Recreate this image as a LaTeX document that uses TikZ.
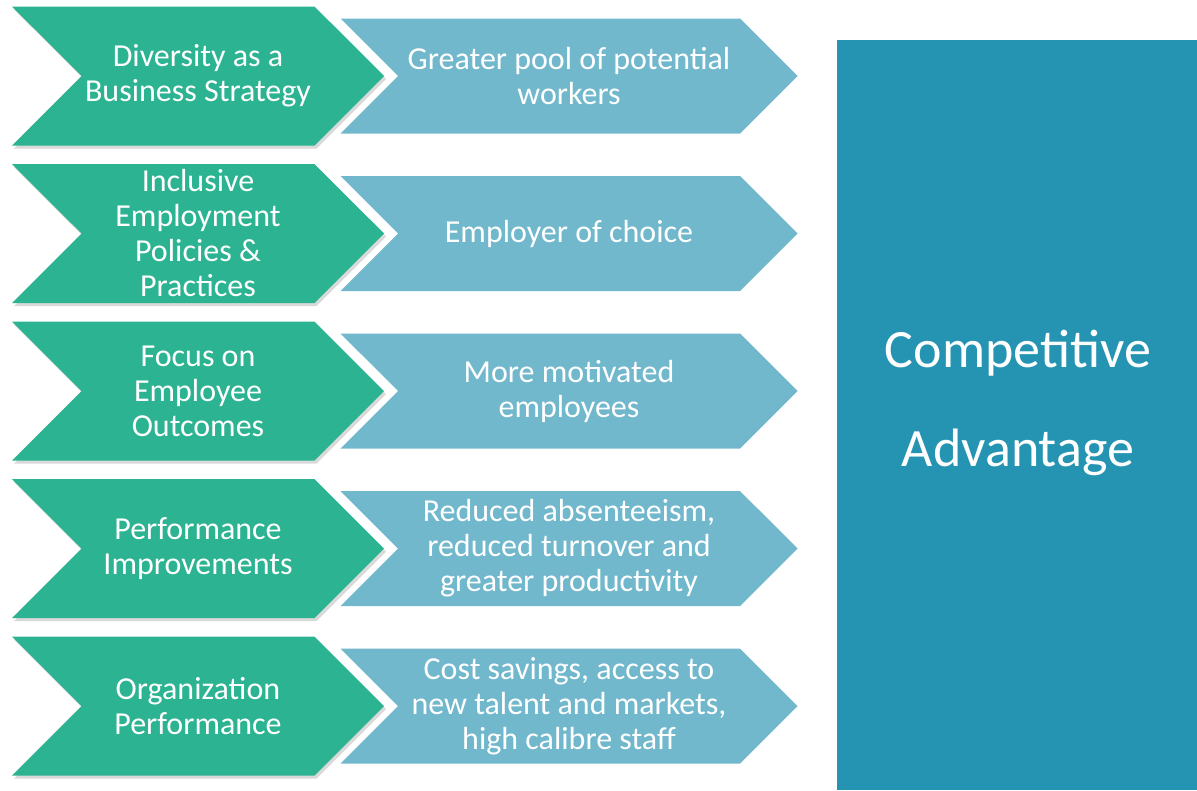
\documentclass[tikz,border=0pt]{standalone}
\usepackage{fontspec}
\setmainfont{Carlito}
\usepackage{xcolor}
\usepackage{tikz}
\usetikzlibrary{shapes.symbols}
\usetikzlibrary{shadows}
\usetikzlibrary{positioning}
\definecolor{causegreen}{HTML}{2CB392}
\definecolor{effectblue}{HTML}{71B8CD}
\definecolor{advblue}{HTML}{2594B3}

\begin{document}
\begin{tikzpicture}[x=1pt,y=-1pt]
	\tikzset{chevron/.style={shape=signal, signal from=west, signal to=east, signal pointer angle=90, inner sep=0pt, text=white, align=center, font=\fontsize{32}{35}\selectfont}}
	\tikzset{cause/.style={chevron, fill=causegreen, minimum width=372pt, minimum height=139pt, drop shadow={shadow xshift=2pt, shadow yshift=-3pt, opacity=0.3}}}
	\tikzset{effect/.style={chevron, fill=effectblue, minimum width=457pt, minimum height=115pt}}
	\useasboundingbox (0,0) rectangle (1197,790);
	% right hand block
	\node[fill=advblue, minimum width=360pt, minimum height=750pt, inner sep=0pt, text=white, align=center, font=\fontsize{54}{99}\selectfont] (adv) at (1017,415) {};
	\node[text=white, align=center, font=\fontsize{54}{99}\selectfont] (advtext) at (1018,403) {Competitive\\Advantage};
	% effects first, causes on top
	\node[effect] (pool) at (569,76) {Greater pool of potential\\workers};
	\node[effect] (choice) at (569,233.5) {Employer of choice};
	\node[effect] (motiv) at (569,391) {More motivated\\employees};
	\node[effect] (absent) at (569,548.5) {Reduced absenteeism,\\reduced turnover and\\greater productivity};
	\node[effect] (saving) at (569,706) {Cost savings, access to\\new talent and markets,\\high calibre staff};
	\node[cause] (divers) at (198,76) {Diversity as a\\Business Strategy};
	\node[cause] (incl) at (198,233.5) {Inclusive\\Employment\\Policies \&\\Practices};
	\node[cause] (focus) at (198,391) {Focus on\\Employee\\Outcomes};
	\node[cause] (perf) at (198,548.5) {Performance\\Improvements};
	\node[cause] (org) at (198,706) {Organization\\Performance};
\end{tikzpicture}
\end{document}
